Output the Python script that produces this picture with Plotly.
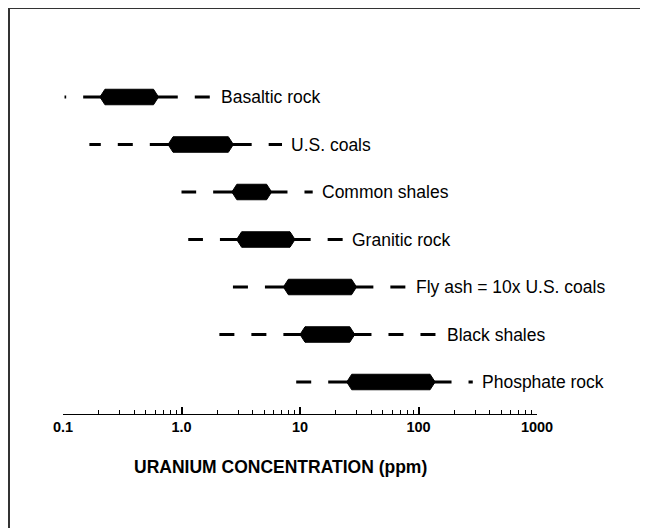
import math
import plotly.graph_objects as go

# ---------------- data (ppm) ----------------
rocks = ["Basaltic rock", "U.S. coals", "Common shales", "Granitic rock",
         "Fly ash = 10x U.S. coals", "Black shales", "Phosphate rock"]
outer_lo = [0.103, 0.167, 1.0, 1.14, 2.66, 2.05, 9.1]
solid_lo = [0.148, 0.54, 1.85, 2.11, 5.06, 7.24, 17.3]
core_lo = [0.205, 0.77, 2.66, 2.92, 7.24, 10.0, 24.8]
core_hi = [0.64, 2.74, 5.76, 9.08, 30.0, 29.0, 138]
solid_hi = [0.93, 3.91, 7.84, 12.3, 41.6, 40.1, 190]
outer_hi = [1.8, 7.05, 12.8, 23.0, 79.6, 147, 287]

tick_vals = [0.1, 1, 10, 100, 1000]
tick_text = ["0.1", "1.0", "10", "100", "1000"]
minor_vals = [m * 10 ** e for e in (-1, 0, 1, 2) for m in range(2, 10)]

# ---------------- geometry / style (figure pixels; page has 8px body margin) ----------------
OFF = 8
W, H = 640, 520
L, T = 63 - OFF, 40 - OFF
AXIS_Y = 414 - OFF
PW = 474
R = W - L - PW
B = H - AXIS_Y
PX_PER_ROW = 47.5
PX_PER_DEC = PW / 4.0
ROW0_PX = 97 - OFF
y_top = (T - ROW0_PX) / PX_PER_ROW
y_bot = (AXIS_Y - ROW0_PX) / PX_PER_ROW
BAR_HALF = 7.75 / PX_PER_ROW
BEVEL = 10 ** (5.0 / PX_PER_DEC)
FONT = "Liberation Sans, Arial, Helvetica, sans-serif"

fig = go.Figure()
for i, name in enumerate(rocks):
    y = i
    for a, b in ((solid_lo[i], outer_lo[i]), (solid_hi[i], outer_hi[i])):
        fig.add_trace(go.Scatter(
            x=[a, b], y=[y, y], mode="lines",
            line=dict(color="black", width=3, dash="0px,17px,15px,0px"),
            hoverinfo="skip", showlegend=False))
    fig.add_trace(go.Scatter(
        x=[solid_lo[i], solid_hi[i]], y=[y, y], mode="lines",
        line=dict(color="black", width=3),
        hoverinfo="skip", showlegend=False))
    lo, hi = core_lo[i], core_hi[i]
    fig.add_trace(go.Scatter(
        x=[lo, lo * BEVEL, hi / BEVEL, hi, hi / BEVEL, lo * BEVEL, lo],
        y=[y, y - BAR_HALF, y - BAR_HALF, y, y + BAR_HALF, y + BAR_HALF, y],
        mode="lines", fill="toself", fillcolor="black",
        line=dict(color="black", width=1),
        hoverinfo="skip", showlegend=False))

annotations = []
for i, name in enumerate(rocks):
    annotations.append(dict(
        x=math.log10(outer_hi[i]), y=i, xref="x", yref="y",
        text=name, showarrow=False, xanchor="left", yanchor="middle",
        xshift=7, font=dict(family=FONT, size=17.5, color="black")))

ph = H - T - B
annotations.append(dict(
    x=(280.5 - OFF - L) / PW, y=(AXIS_Y - (467 - OFF)) / ph,
    xref="paper", yref="paper",
    text="<b>URANIUM CONCENTRATION (ppm)</b>", showarrow=False,
    xanchor="center", yanchor="middle",
    font=dict(family=FONT, size=17.5, color="black")))

fx = (1 - L) / PW
fx_end = (W - L) / PW
fy = (AXIS_Y - 0) / ph
fy_end = (AXIS_Y - H) / ph
shapes = [
    dict(type="line", xref="paper", yref="paper", x0=fx, x1=fx_end, y0=fy, y1=fy,
         line=dict(color="#333333", width=2)),
    dict(type="line", xref="paper", yref="paper", x0=fx, x1=fx, y0=fy, y1=fy_end,
         line=dict(color="#333333", width=2)),
]

fig.update_layout(
    width=W, height=H,
    margin=dict(l=L, r=R, t=T, b=B, pad=0),
    paper_bgcolor="white", plot_bgcolor="white",
    annotations=annotations, shapes=shapes,
    xaxis=dict(
        type="log", range=[-1, 3], tickmode="array",
        tickvals=tick_vals, ticktext=["<b>%s</b>" % t for t in tick_text],
        ticks="inside", ticklen=7, tickwidth=1.5, tickcolor="black",
        showline=True, linecolor="black", linewidth=1,
        showgrid=False, zeroline=False,
        tickfont=dict(family=FONT, size=14.5, color="black"),
        minor=dict(tickmode="array", tickvals=minor_vals, ticks="inside",
                   ticklen=4, tickwidth=1, tickcolor="black", showgrid=False),
    ),
    yaxis=dict(visible=False, range=[y_bot, y_top], fixedrange=True),
)

fig.write_html("out.html", config={"displayModeBar": False},
               post_script="document.body.style.overflow='hidden';")
